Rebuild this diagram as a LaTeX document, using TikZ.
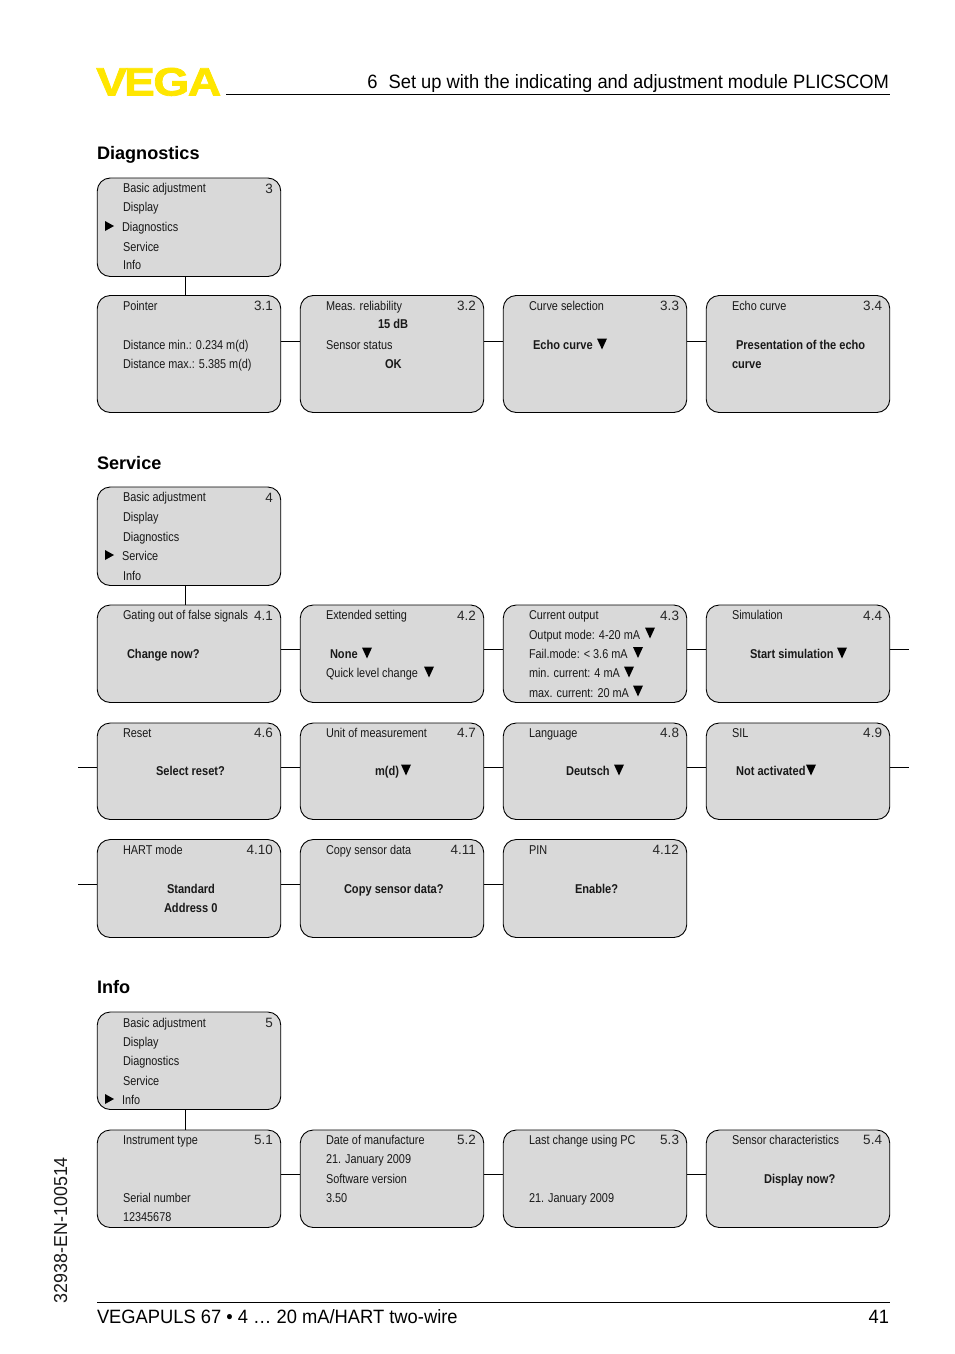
\documentclass[tikz,border=0pt]{standalone}
\usepackage{fontspec}
\setmainfont{Liberation Sans}
\newfontfamily\narrowf[FakeStretch=0.85]{Liberation Sans}
\newfontfamily\bnarrowf[FakeStretch=0.865]{Liberation Sans Bold}
\newfontfamily\bigf[FakeStretch=0.95]{Liberation Sans}
\newfontfamily\logof[FakeStretch=1.17,FakeBold=2]{Liberation Sans Bold}
\newcounter{lb}
\tikzset{
  box/.style={draw=black,line width=0.9pt,fill=boxgray,rounded corners=13pt,minimum width=183.5pt,inner sep=0pt,outer sep=0pt},
  lab/.style={inner sep=0pt,outer sep=0pt,anchor=base west,font=\narrowf\fontsize{12.8pt}{14pt}\selectfont,text=black!90},
  blab/.style={lab,font=\bnarrowf\fontsize{12.8pt}{14pt}\selectfont},
  numl/.style={inner sep=0pt,outer sep=0pt,anchor=base east,font=\fontsize{13.5pt}{15pt}\selectfont,text=black!85},
  big/.style={inner sep=0pt,outer sep=0pt,anchor=base west,font=\bigf\fontsize{19.3pt}{22pt}\selectfont},
  sect/.style={inner sep=0pt,outer sep=0pt,anchor=base west,font=\bfseries\fontsize{18.1pt}{20pt}\selectfont},
  conn/.style={draw=black,line width=0.9pt},
  thickconn/.style={draw=black,line width=1.3pt}
}
\definecolor{boxgray}{HTML}{D9D9D9}
\definecolor{vegay}{HTML}{FFE600}
\newcommand\lab[3]{\stepcounter{lb}\node[lab] (t\thelb) at (#1,#2) {#3};}
\newcommand\blab[3]{\stepcounter{lb}\node[blab] (t\thelb) at (#1,#2) {#3};}
\newcommand\numl[3]{\stepcounter{lb}\node[numl] (t\thelb) at (#1,#2) {#3};}
\newcommand\dn[2]{\fill[black] (#1-5,#2-5.5) -- (#1+5,#2-5.5) -- (#1,#2+5.5) -- cycle;}
\newcommand\rt[2]{\fill[black] (#1-4.5,#2-5) -- (#1+4.5,#2) -- (#1-4.5,#2+5) -- cycle;}
\newcommand\bx[4]{\node[box,minimum height=#4-#3] (#1) at (#2,{(#3+#4)/2}) {};}
\begin{document}
\begin{tikzpicture}[x=1pt,y=-1pt]
\useasboundingbox (0,0) rectangle (954,1354);
% header
\node[inner sep=0pt,anchor=base west,text=vegay,font=\logof\fontsize{39.5pt}{42pt}\selectfont] (logo) at (96,95.5) {V\kern-3ptE\kern-1.5ptG\kern-1.5ptA};
\coordinate (hl) at (226,94.5); \coordinate (hr) at (890,94.5);
\draw[black,line width=0.8pt] (hl) -- (hr);
\node[big,anchor=base east] (head) at (889,88.5) {6\hspace{6pt} Set up with the indicating and adjustment module PLICSCOM};
% sections
\node[sect] (s1) at (97,159) {Diagnostics};
\node[sect] (s2) at (97,469) {Service};
\node[sect] (s3) at (97,993) {Info};
% boxes
\bx{d0}{189}{178}{276.5}
\bx{d1}{189}{295.5}{412.5}
\bx{d2}{392}{295.5}{412.5}
\bx{d3}{595}{295.5}{412.5}
\bx{d4}{798}{295.5}{412.5}
\bx{a0}{189}{487}{585.5}
\bx{a1}{189}{605}{702.5}
\bx{a2}{392}{605}{702.5}
\bx{a3}{595}{605}{702.5}
\bx{a4}{798}{605}{702.5}
\bx{b1}{189}{723}{819.5}
\bx{b2}{392}{723}{819.5}
\bx{b3}{595}{723}{819.5}
\bx{b4}{798}{723}{819.5}
\bx{c1}{189}{839.5}{937.5}
\bx{c2}{392}{839.5}{937.5}
\bx{c3}{595}{839.5}{937.5}
\bx{i0}{189}{1012}{1109.5}
\bx{i1}{189}{1130}{1227.5}
\bx{i2}{392}{1130}{1227.5}
\bx{i3}{595}{1130}{1227.5}
\bx{i4}{798}{1130}{1227.5}
% connectors
\draw[conn] ([xshift=-4pt]d0.south) -- ([xshift=-4pt]d1.north);
\draw[conn] ([xshift=-4pt]a0.south) -- ([xshift=-4pt]a1.north);
\draw[conn] ([xshift=-4pt]i0.south) -- ([xshift=-4pt]i1.north);
\foreach \p/\q in {d1/d2,d2/d3,d3/d4}{\draw[conn] ([yshift=13pt]\p.east) -- ([yshift=13pt]\q.west);}
\foreach \p/\q in {a1/a2,a2/a3,a3/a4}{\draw[conn] ([yshift=4pt]\p.east) -- ([yshift=4pt]\q.west);}
\foreach \p/\q in {b1/b2,b2/b3,b3/b4}{\draw[thickconn] ([yshift=4pt]\p.east) -- ([yshift=4pt]\q.west);}
\foreach \p/\q in {c1/c2,c2/c3}{\draw[conn] ([yshift=4pt]\p.east) -- ([yshift=4pt]\q.west);}
\foreach \p/\q in {i1/i2,i2/i3,i3/i4}{\draw[conn] ([yshift=4pt]\p.east) -- ([yshift=4pt]\q.west);}
\coordinate (ar) at ([xshift=19pt,yshift=4pt]a4.east); \draw[conn] ([yshift=4pt]a4.east) -- (ar);
\coordinate (br) at ([xshift=19pt,yshift=4pt]b4.east); \draw[thickconn] ([yshift=4pt]b4.east) -- (br);
\coordinate (bl) at ([xshift=-19pt,yshift=4pt]b1.west); \draw[conn] (bl) -- ([yshift=4pt]b1.west);
\coordinate (cl) at ([xshift=-19pt,yshift=4pt]c1.west); \draw[conn] (cl) -- ([yshift=4pt]c1.west);
% Diagnostics menu
\lab{123}{192.5}{Basic adjustment}\numl{273}{193}{3}
\lab{123}{211.5}{Display}\lab{122}{231}{Diagnostics}\lab{123}{251}{Service}\lab{123}{269.5}{Info}
\rt{109.5}{226}
\lab{123}{310}{Pointer}\numl{273}{310.5}{3.1}
\lab{123}{349}{Distance min.: 0.234 m(d)}
\lab{123}{368}{Distance max.: 5.385 m(d)}
\lab{326}{310}{Meas. reliability}\numl{476}{310.5}{3.2}
\blab{378}{328.5}{15 dB}
\lab{326}{349}{Sensor status}
\blab{385}{368}{OK}
\lab{529}{310}{Curve selection}\numl{679}{310.5}{3.3}
\blab{533}{349}{Echo curve}\dn{602}{344}
\lab{732}{310}{Echo curve}\numl{882}{310.5}{3.4}
\blab{736}{349}{Presentation of the echo}
\blab{732}{368}{curve}
% Service menu
\lab{123}{501.5}{Basic adjustment}\numl{273}{502}{4}
\lab{123}{521}{Display}\lab{123}{541}{Diagnostics}\lab{122}{560}{Service}\lab{123}{580}{Info}
\rt{109.5}{555}
\lab{123}{619}{Gating out of false signals}\numl{273}{620}{4.1}
\blab{127}{658}{Change now?}
\lab{326}{619}{Extended setting}\numl{476}{620}{4.2}
\blab{330}{658}{None}\dn{367}{653}
\lab{326}{677}{Quick level change}\dn{429}{672}
\lab{529}{619}{Current output}\numl{679}{620}{4.3}
\lab{529}{639}{Output mode: 4-20 mA}\dn{650}{633}
\lab{529}{658}{Fail.mode: < 3.6 mA}\dn{638}{652.5}
\lab{529}{677}{min. current: 4 mA}\dn{629}{672}
\lab{529}{697}{max. current: 20 mA}\dn{638}{691}
\lab{732}{619}{Simulation}\numl{882}{620}{4.4}
\blab{750}{658}{Start simulation}\dn{842}{653}
\lab{123}{737}{Reset}\numl{273}{737}{4.6}
\blab{156}{775}{Select reset?}
\lab{326}{737}{Unit of measurement}\numl{476}{737}{4.7}
\blab{375}{775}{m(d)}\dn{406}{770}
\lab{529}{737}{Language}\numl{679}{737}{4.8}
\blab{566}{775}{Deutsch}\dn{619}{770}
\lab{732}{737}{SIL}\numl{882}{737}{4.9}
\blab{736}{775}{Not activated}\dn{811}{770}
\lab{123}{854}{HART mode}\numl{273}{854}{4.10}
\blab{167}{893}{Standard}
\blab{164}{912}{Address 0}
\lab{326}{854}{Copy sensor data}\numl{476}{854}{4.11}
\blab{344}{893}{Copy sensor data?}
\lab{529}{854}{PIN}\numl{679}{854}{4.12}
\blab{575}{893}{Enable?}
% Info menu
\lab{123}{1027}{Basic adjustment}\numl{273}{1027}{5}
\lab{123}{1046}{Display}\lab{123}{1065}{Diagnostics}\lab{123}{1085}{Service}\lab{122}{1104}{Info}
\rt{109.5}{1099}
\lab{123}{1144}{Instrument type}\numl{273}{1144}{5.1}
\lab{123}{1202}{Serial number}
\lab{123}{1221}{12345678}
\lab{326}{1144}{Date of manufacture}\numl{476}{1144}{5.2}
\lab{326}{1163}{21. January 2009}
\lab{326}{1183}{Software version}
\lab{326}{1202}{3.50}
\lab{529}{1144}{Last change using PC}\numl{679}{1144}{5.3}
\lab{529}{1202}{21. January 2009}
\lab{732}{1144}{Sensor characteristics}\numl{882}{1144}{5.4}
\blab{764}{1183}{Display now?}
% footer
\coordinate (fl) at (97,1302); \coordinate (fr) at (890,1302);
\draw[black,line width=0.8pt] (fl) -- (fr);
\node[big] (f1) at (97,1323) {VEGAPULS 67 • 4 … 20 mA/HART two-wire};
\node[big,anchor=base east] (f2) at (889,1323) {41};
\node[big,rotate=90,font=\bigf\fontsize{18.8pt}{22pt}\selectfont,text=black!90] (side) at (67,1303) {32938-EN-100514};
\end{tikzpicture}
\end{document}
